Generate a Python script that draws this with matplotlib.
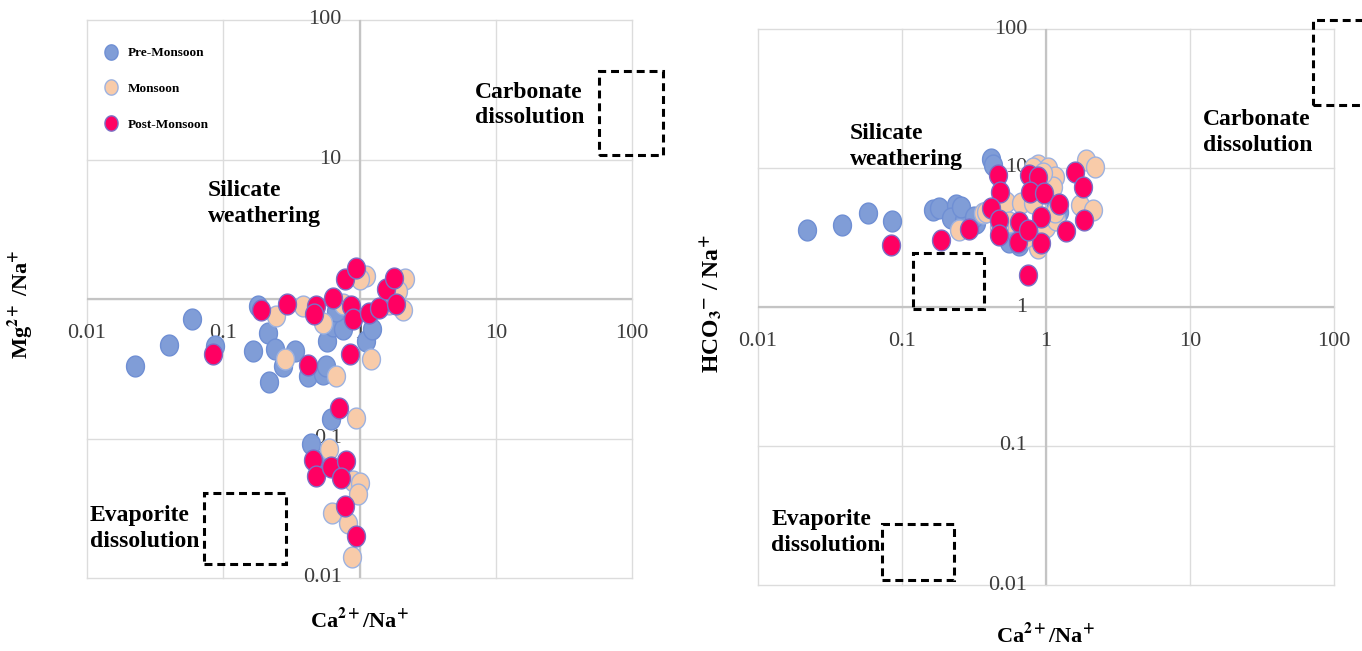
import numpy as np
import matplotlib
matplotlib.use("Agg")
from matplotlib import pyplot as plt
from matplotlib.path import Path
from matplotlib.patches import Rectangle
from matplotlib.lines import Line2D

plt.rcParams['font.family'] = ['Liberation Serif', 'DejaVu Serif']
plt.rcParams['mathtext.fontset'] = 'stix'
plt.rcParams['mathtext.default'] = 'bf'

# ---- data: left panel (Mg/Na vs Ca/Na) ----
L_pre_x = [0.0224, 0.040, 0.0585, 0.0867, 0.164, 0.18, 0.213, 0.238, 0.217, 0.274, 0.334, 0.418,
           0.538, 0.57, 0.58, 0.638, 0.755, 0.675, 1.12, 1.24, 0.62, 0.443, 0.525]
L_pre_y = [0.333, 0.469, 0.715, 0.46, 0.424, 0.89, 0.574, 0.436, 0.255, 0.331, 0.424, 0.281,
           0.288, 0.331, 0.5, 0.64, 0.606, 0.82, 0.5, 0.606, 0.137, 0.091, 0.069]
L_mon_x = [0.245, 0.385, 0.538, 0.282, 0.675, 1.22, 0.755, 1.12, 1.0, 2.14, 2.08, 1.91, 1.66,
           0.935, 0.596, 0.893, 1.0, 0.97, 0.63, 0.82, 0.885]
L_mon_y = [0.755, 0.89, 0.676, 0.37, 0.281, 0.37, 0.916, 1.46, 1.38, 1.38, 0.84, 1.14, 0.92,
           0.141, 0.0837, 0.0496, 0.0482, 0.0398, 0.0294, 0.0249, 0.0142]
L_post_x = [0.0834, 0.19, 0.294, 0.476, 0.463, 0.638, 0.777, 0.946, 0.87, 0.893, 1.18, 1.38, 1.57,
            1.8, 1.86, 0.418, 0.855, 0.705, 0.455, 0.476, 0.62, 0.79, 0.734, 0.777, 0.935]
L_post_y = [0.405, 0.84, 0.916, 0.89, 0.777, 1.02, 1.38, 1.68, 0.89, 0.715, 0.8, 0.867, 1.17,
            1.42, 0.916, 0.336, 0.401, 0.166, 0.070, 0.0538, 0.0625, 0.069, 0.0524, 0.0328, 0.020]

# ---- data: right panel (HCO3/Na vs Ca/Na) ----
R_pre_x = [0.0219, 0.0384, 0.0582, 0.0855, 0.163, 0.181, 0.237, 0.218, 0.27, 0.327, 0.256, 0.318,
           0.415, 0.427, 0.557, 0.557, 0.653, 1.24, 1.18]
R_pre_y = [3.58, 3.89, 4.72, 4.18, 4.99, 5.13, 5.42, 4.35, 4.22, 4.0, 5.27, 4.47,
           11.7, 10.5, 3.39, 2.95, 2.79, 4.85, 5.27]
R_mon_x = [0.25, 0.363, 0.383, 0.528, 0.557, 0.672, 0.81, 0.877, 1.03, 1.15, 1.11, 1.0, 0.877,
           0.728, 0.474, 1.91, 2.18, 1.71, 2.12, 1.18, 1.15, 0.81, 0.95]
R_mon_y = [3.58, 4.72, 4.85, 5.72, 4.11, 5.57, 5.57, 10.5, 9.95, 8.66, 7.33, 3.78, 2.64,
           3.2, 3.78, 11.4, 10.2, 5.42, 4.99, 4.22, 4.85, 9.95, 9.16]
R_post_x = [0.0834, 0.188, 0.293, 0.461, 0.48, 0.415, 0.469, 0.469, 0.653, 0.636, 0.767, 0.877,
            0.78, 0.976, 0.926, 0.926, 0.747, 1.23, 1.37, 1.58, 1.8, 1.85, 0.747]
R_post_y = [2.79, 3.03, 3.62, 8.9, 6.76, 5.13, 4.22, 3.3, 4.11, 2.95, 8.9, 8.66,
            6.76, 6.58, 4.47, 2.87, 3.58, 5.48, 3.52, 9.4, 7.33, 4.22, 1.7]

series_names = ['Pre-Monsoon', 'Monsoon', 'Post-Monsoon']
decades = [0.01, 0.1, 1, 10, 100]
decade_labels = ['0.01', '0.1', '1', '10', '100']

fills = ['#809dd7', '#f8cba9', '#ff0062']
edges = ['#6f8fd4', '#9db2e0', '#7b70c6']

# slightly tall ellipse marker, like the stretched excel circles
t = np.linspace(0, 2 * np.pi, 64)
ell = Path(np.column_stack([0.86 * np.cos(t), np.sin(t)]), closed=True)


def setup(ax):
    ax.set_xscale('log')
    ax.set_yscale('log')
    ax.set_xlim(0.01, 100)
    ax.set_ylim(0.01, 100)
    for s in ax.spines.values():
        s.set_visible(False)
    ax.set_xticks([])
    ax.set_yticks([])
    ax.minorticks_off()
    for d in decades:
        ax.axvline(d, color='#dcdcdc', lw=1.0, zorder=0, clip_on=False)
        ax.axhline(d, color='#dcdcdc', lw=1.0, zorder=0, clip_on=False)
    ax.axvline(1, color='#c4c4c4', lw=1.6, zorder=0.5)
    ax.axhline(1, color='#c4c4c4', lw=1.6, zorder=0.5)
    for d, lab in zip(decades, decade_labels):
        ax.text(d, 10 ** -0.25, lab, ha='center', va='center', fontsize=16, color='#3c3c3c', zorder=1)
        ax.text(10 ** -0.13, d, lab, ha='right', va='center', fontsize=16, color='#3c3c3c', zorder=1)


def scatter(ax, xs, ys):
    for x, y, fc, ec in zip(xs, ys, fills, edges):
        ax.scatter(x, y, s=225, marker=ell, facecolor=fc, edgecolor=ec, linewidths=1.0,
                   zorder=3, clip_on=False)


def box(ax, x0, x1, y0, y1):
    ax.add_patch(Rectangle((x0, y0), x1 - x0, y1 - y0, fill=False, ec='black', lw=2.2,
                           ls=(0, (2.6, 1.6)), zorder=4, clip_on=False))


def label(ax, x, y, s):
    ax.text(x, y, s, ha='left', va='center', fontsize=17, fontweight='bold',
            linespacing=1.3, zorder=5)


fig = plt.figure(figsize=(13.62, 6.51), dpi=100)
axL = fig.add_axes([87 / 1362, 1 - 578 / 651, 545 / 1362, 558 / 651])
axR = fig.add_axes([758 / 1362, 1 - 585 / 651, 576 / 1362, 556 / 651])

# left
setup(axL)
scatter(axL, [L_pre_x, L_mon_x, L_post_x], [L_pre_y, L_mon_y, L_post_y])
label(axL, 7.08, 24.6, 'Carbonate\ndissolution')
label(axL, 0.0769, 4.84, 'Silicate\nweathering')
label(axL, 0.0105, 0.0225, 'Evaporite\ndissolution')
box(axL, 57.3, 168, 10.8, 43)
box(axL, 0.072, 0.287, 0.0126, 0.0407)
axL.text(0.5, -0.075, r'Ca$^{2+}$/Na$^{+}$', transform=axL.transAxes, ha='center', va='center',
         fontsize=16, fontweight='bold')
axL.text(-0.123, 0.49, r'Mg$^{2+}$ /Na$^{+}$', transform=axL.transAxes, ha='center', va='center',
         rotation=90, fontsize=16, fontweight='bold')

handles = [Line2D([], [], ls='none', marker=ell, markersize=11, markerfacecolor=fc,
                  markeredgecolor=ec, markeredgewidth=1.0) for fc, ec in zip(fills, edges)]
leg = axL.legend(handles, series_names, loc='upper left', bbox_to_anchor=(0.007, 0.975),
                 borderaxespad=0, borderpad=1.0, handlelength=1.0, handletextpad=0.8,
                 labelspacing=1.78, frameon=True, fancybox=False, edgecolor='none',
                 facecolor='white', framealpha=1,
                 prop={'family': 'Liberation Serif', 'weight': 'bold', 'size': 9.5})
leg.set_zorder(2)

# right
setup(axR)
scatter(axR, [R_pre_x, R_mon_x, R_post_x], [R_pre_y, R_mon_y, R_post_y])
label(axR, 12.3, 17.9, 'Carbonate\ndissolution')
label(axR, 0.0434, 14.3, 'Silicate\nweathering')
label(axR, 0.0124, 0.0239, 'Evaporite\ndissolution')
box(axR, 72, 170, 28.4, 116)
box(axR, 0.119, 0.373, 0.97, 2.45)
box(axR, 0.0726, 0.23, 0.0109, 0.0275)
axR.text(0.5, -0.09, r'Ca$^{2+}$/Na$^{+}$', transform=axR.transAxes, ha='center', va='center',
         fontsize=16, fontweight='bold')
axR.text(-0.08, 0.505, r'HCO$_3$$^{-}$ / Na$^{+}$', transform=axR.transAxes, ha='center', va='center',
         rotation=90, fontsize=17, fontweight='bold')

fig.savefig('out.png', dpi=100)
